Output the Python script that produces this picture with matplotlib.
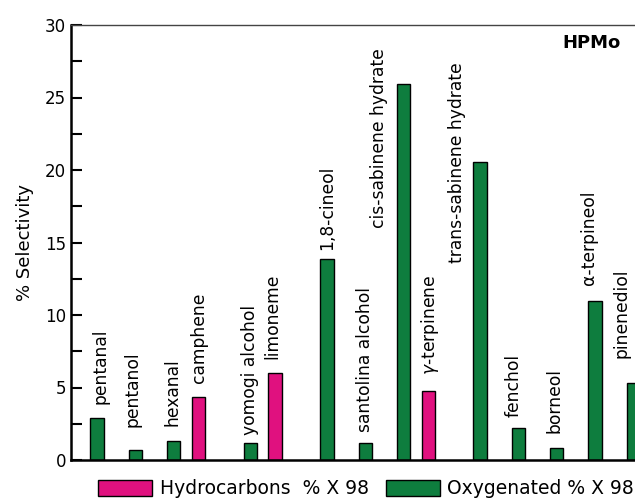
import matplotlib
matplotlib.use("Agg")
import matplotlib.pyplot as plt
from matplotlib.patches import Patch
from matplotlib.ticker import MultipleLocator

# data
names = ["pentanal", "pentanol", "hexanal", "camphene", "yomogi alcohol", "limoneme",
         "1,8-cineol", "santolina alcohol", "cis-sabinene hydrate", r"$\gamma$-terpinene",
         "trans-sabinene hydrate", "fenchol", "borneol", "\u03b1-terpineol", "pinenediol"]
values = [2.9, 0.67, 1.29, 4.32, 1.15, 6.0, 13.84, 1.15, 25.9, 4.76, 20.53, 2.23, 0.8, 10.99, 5.29]
group = ["O", "O", "O", "H", "O", "H", "O", "O", "O", "H", "O", "O", "O", "O", "O"]
legend_labels = ["Hydrocarbons  % X 98", "Oxygenated % X 98"]

# layout: slot of each bar and where its label sits relative to it
slots = [1, 2, 3, 3.65, 5, 5.65, 7, 8, 9, 9.65, 11, 12, 13, 14, 15]
label_dx = [0.08, -0.08, -0.03, 0, 0, -0.08, 0, 0, -0.63, 0.04, -0.6, -0.12, -0.05, -0.17, -0.3]
label_dy = [0.96, 1.6, 1.05, 1.0, 0.57, 0.97, 0.66, 0.78, -9.9, 1.1, -6.93, 0.74, 1.06, 1.08, 1.74]

colors = {"H": "#e0117f", "O": "#0e7d3e"}

plt.rcParams["font.family"] = "DejaVu Sans"

fig = plt.figure(figsize=(6.35, 5), dpi=100)
ax = fig.add_axes([71 / 635, 40 / 500, 0.946, 435 / 500])

ax.bar(slots, values, width=0.35, color=[colors[g] for g in group],
       edgecolor="black", linewidth=1.0)

for s, v, n, dx, dy in zip(slots, values, names, label_dx, label_dy):
    ax.text(s + dx, v + dy, n, rotation=90, ha="center", va="bottom", fontsize=12.3)

ax.set_xlim(0.32, 16)
ax.set_ylim(0, 30)
ax.yaxis.set_major_locator(MultipleLocator(5))
ax.yaxis.set_minor_locator(MultipleLocator(2.5))
ax.tick_params(axis="y", which="both", direction="in", labelsize=12, width=1.5)
ax.tick_params(axis="y", which="major", length=8)
ax.tick_params(axis="y", which="minor", length=8)
ax.set_xticks([])
ax.spines["right"].set_visible(False)
ax.spines["left"].set_linewidth(1.8)
ax.spines["bottom"].set_linewidth(1.8)
ax.spines["top"].set_linewidth(1.0)
ax.spines["top"].set_color("#444444")
ax.set_ylabel("% Selectivity", fontsize=13, labelpad=8)

ax.text(591 / 635, 1 - 43 / 500, "HPMo", transform=fig.transFigure, fontsize=13,
        fontweight="bold", ha="center", va="center")

handles = [Patch(facecolor=colors["H"], edgecolor="black"),
           Patch(facecolor=colors["O"], edgecolor="black")]
fig.legend(handles, legend_labels, loc="center", bbox_to_anchor=(366 / 635, 11 / 500),
           ncol=2, frameon=False, fontsize=13.5, handlelength=2.9, handleheight=0.95,
           handletextpad=0.4, columnspacing=0.9, borderpad=0)

fig.savefig("out.png", dpi=100)
